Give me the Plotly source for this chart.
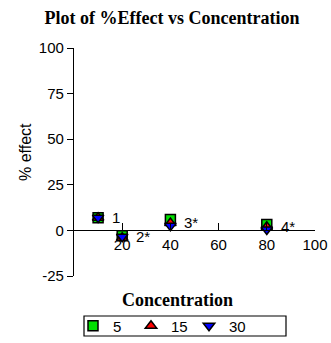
import plotly.graph_objects as go

# Concentration levels and % effect for each series
concentration = [10, 20, 40, 80]
effect_5 = [7, -3, 6, 3.3]
effect_15 = [7, -4, 4, 2]
effect_30 = [7, -3.5, 2.5, 0.5]
point_labels = ["1", "2*", "3*", "4*"]
series_names = ["5", "15", "30"]

y_ticks = [-25, 0, 25, 50, 75, 100]
y_tick_text = ["-25", "0", "25", "50", "75", "100"]
x_ticks = [20, 40, 60, 80, 100]
x_tick_text = ["20", "40", "60", "80", "100"]

sans = "Liberation Sans, Arial, sans-serif"
serif = "Liberation Serif, Times New Roman, serif"

fig = go.Figure()
styles = [
    ("square", "#00e000", effect_5),
    ("triangle-up", "#ff0000", effect_15),
    ("triangle-down", "#0000ff", effect_30),
]
for name, (sym, col, vals) in zip(series_names, styles):
    fig.add_trace(go.Scatter(
        x=concentration, y=vals, mode="markers", name=name,
        marker=dict(symbol=sym, size=10, color=col,
                    line=dict(color="black", width=1.5)),
    ))

# Point labels next to each concentration group
label_y = [(a + b + c) / 3 for a, b, c in zip(effect_5, effect_15, effect_30)]
for xv, yv, txt in zip(concentration, label_y, point_labels):
    fig.add_annotation(x=xv, y=yv, text=txt, showarrow=False,
                       xanchor="left", yanchor="middle", xshift=12,
                       font=dict(family=sans, size=15, color="black"))

y_lo, y_hi = -25, 100
zero_pos = (0 - y_lo) / (y_hi - y_lo)

L, R, T, B = 74, 16, 48, 67
W, H = 331, 343
pw, ph = W - L - R, H - T - B


def px_x(px):
    return (px - L) / pw


def px_y(py):
    return (H - B - py) / ph


fig.update_layout(
    width=W, height=H,
    margin=dict(l=L, r=R, t=T, b=B, autoexpand=False),
    paper_bgcolor="white", plot_bgcolor="white",
    title=dict(text="<b>Plot of %Effect vs Concentration</b>",
               x=172 / W, xref="container", xanchor="center",
               y=1 - 18 / H, yref="container", yanchor="middle",
               font=dict(family=serif, size=18, color="black")),
    xaxis=dict(range=[0, 100], tickvals=x_ticks, ticktext=x_tick_text,
               anchor="free", position=zero_pos, automargin=False,
               showline=True, linecolor="black", linewidth=1.2,
               ticks="inside", ticklen=7, tickwidth=1.2, tickcolor="black",
               showgrid=False, zeroline=False,
               tickfont=dict(family=sans, size=15, color="black")),
    yaxis=dict(range=[y_lo, y_hi], tickvals=y_ticks, ticktext=y_tick_text,
               automargin=False,
               showline=True, linecolor="black", linewidth=1.2,
               ticks="outside", ticklen=6, tickwidth=1.2, tickcolor="black",
               showgrid=False, zeroline=False,
               tickfont=dict(family=sans, size=15, color="black")),
    showlegend=True,
    legend=dict(orientation="h", x=px_x(73), xanchor="left",
                y=px_y(326), yanchor="middle",
                borderwidth=0, bgcolor="rgba(0,0,0,0)",
                font=dict(family=sans, size=15, color="black"),
                itemwidth=30, entrywidth=13, tracegroupgap=0),
)

# Legend frame
fig.add_shape(type="rect", xref="paper", yref="paper",
              x0=px_x(84), x1=px_x(286), y0=px_y(336), y1=px_y(316),
              line=dict(color="black", width=1.2), fillcolor="rgba(0,0,0,0)")

fig.add_annotation(text="<b>Concentration</b>", xref="paper", yref="paper",
                   x=px_x(177.5), y=px_y(300),
                   showarrow=False, xanchor="center", yanchor="middle",
                   font=dict(family=serif, size=18, color="black"))
fig.add_annotation(text="% effect", xref="paper", yref="paper",
                   x=px_x(25), y=px_y(152), textangle=-90,
                   showarrow=False, xanchor="center", yanchor="middle",
                   font=dict(family=sans, size=16, color="black"))

fig.write_html("out.html")
